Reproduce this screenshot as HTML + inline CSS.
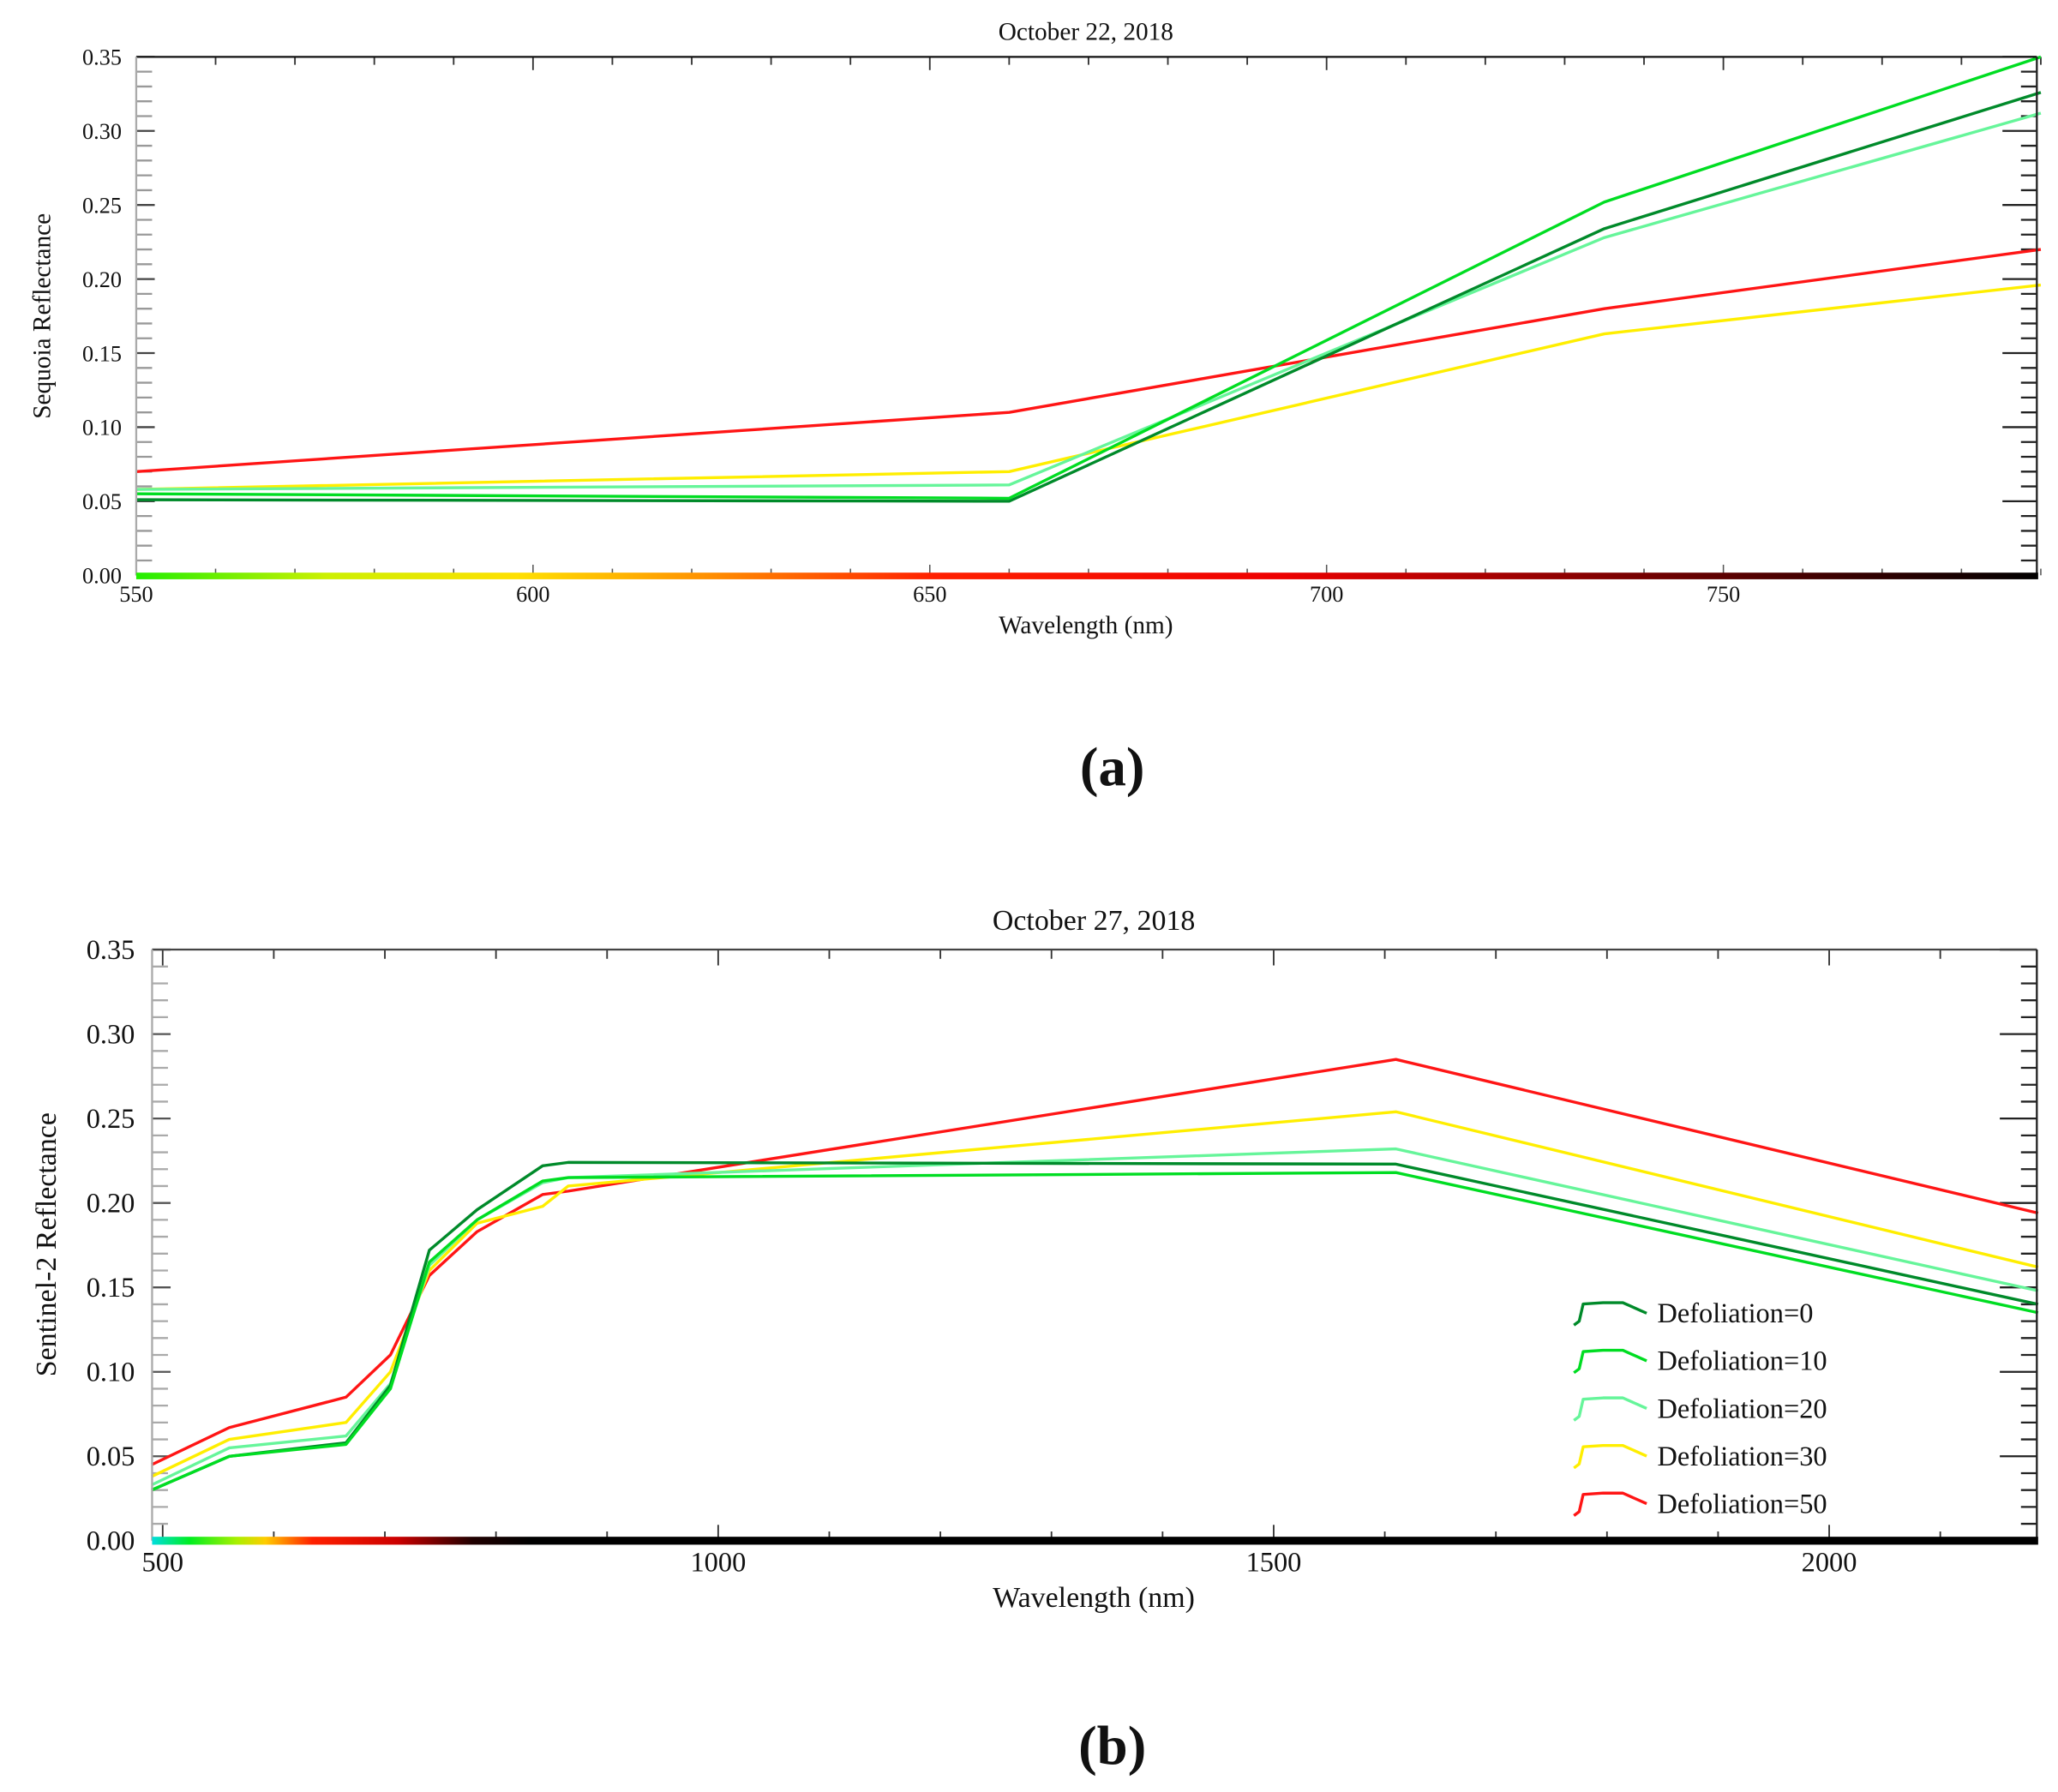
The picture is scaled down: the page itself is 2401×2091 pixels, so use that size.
<!DOCTYPE html>
<html><head><meta charset="utf-8"><style>
html,body{margin:0;padding:0;background:#fff;}
svg{display:block;}
text{font-family:"Liberation Serif",serif;fill:#111;}
</style></head><body>
<svg id="s" width="2401" height="2091" viewBox="0 0 1556 1355" preserveAspectRatio="none" xmlns="http://www.w3.org/2000/svg">
<defs>
<linearGradient id="ga" x1="0" x2="1" y1="0" y2="0">
<stop offset="0" stop-color="#22ee00"/><stop offset="0.1" stop-color="#ccf000"/><stop offset="0.2" stop-color="#ffe000"/><stop offset="0.3" stop-color="#ff9000"/><stop offset="0.42" stop-color="#ff2000"/><stop offset="0.6" stop-color="#ee0000"/><stop offset="0.8" stop-color="#700000"/><stop offset="1" stop-color="#000"/>
</linearGradient>
<linearGradient id="gb" x1="0" x2="1" y1="0" y2="0">
<stop offset="0" stop-color="#00dddd"/><stop offset="0.02" stop-color="#00ee20"/><stop offset="0.045" stop-color="#aaf000"/><stop offset="0.06" stop-color="#ffcc00"/><stop offset="0.085" stop-color="#ff2000"/><stop offset="0.13" stop-color="#cc0000"/><stop offset="0.17" stop-color="#200000"/><stop offset="0.2" stop-color="#000"/><stop offset="1" stop-color="#000"/>
</linearGradient>
</defs>
<g id="g"></g>
<text x="821" y="30" font-size="19" text-anchor="middle">October 22, 2018</text>
<text x="821" y="479" font-size="19" text-anchor="middle">Wavelength (nm)</text>
<text transform="translate(38,239) rotate(-90)" font-size="19" text-anchor="middle">Sequoia Reflectance</text>
<text x="841" y="594" font-size="42" font-weight="bold" text-anchor="middle">(a)</text>
<text x="827" y="703" font-size="22" text-anchor="middle">October 27, 2018</text>
<text x="827" y="1215" font-size="22" text-anchor="middle">Wavelength (nm)</text>
<text transform="translate(42,941) rotate(-90)" font-size="22" text-anchor="middle">Sentinel-2 Reflectance</text>
<text x="841" y="1334" font-size="42" font-weight="bold" text-anchor="middle">(b)</text>
</svg>
<script>
var g=document.getElementById('g'),h='';
function L(x1,y1,x2,y2,c,w){h+='<line x1="'+x1+'" y1="'+y1+'" x2="'+x2+'" y2="'+y2+'" stroke="'+c+'" stroke-width="'+w+'"/>';}
function T(x,y,t,fs,a){h+='<text x="'+x+'" y="'+y+'" font-size="'+fs+'" text-anchor="'+(a||'middle')+'">'+t+'</text>';}
function P(pts,c,w){h+='<polyline fill="none" stroke="'+c+'" stroke-width="'+w+'" stroke-linejoin="round" points="'+pts.join(' ')+'"/>';}
var cols=['#008a2a','#00dd22','#66f59a','#ffee00','#ff1515'];
// chart a
var ax0=103,ax1=1540,ay0=43,ay1=435;
function xa(n){return 103+(n-550)*6;} function ya(v){return 435-1120*v;}
for(var n=550;n<=790;n+=10){var X=xa(n);var maj=(n%50==0);L(X,ay1,X,ay1-(maj?8:5),'#555',1);L(X,ay0,X,ay0+(maj?10:6),'#333',1.2);}
for(var k=0;k<=35;k++){var Y=ya(k/100);var maj=(k%5==0);L(ax0,Y,ax0+(maj?14:12),Y,maj?'#444':'#999',1.5);L(ax1,Y,ax1-(maj?26:12),Y,'#222',1.5);}
[550,600,650,700,750].forEach(function(n){T(xa(n),455,n,17);});
for(var k=0;k<=7;k++)T(92,ya(k*0.05)+6,(k*0.05).toFixed(2),17,'end');
var wa=[550,660,735,790];
var da=[[0.051,0.05,0.234,0.326],[0.055,0.052,0.252,0.35],[0.058,0.061,0.228,0.312],[0.058,0.07,0.163,0.196],[0.07,0.11,0.18,0.22]];
[4,3,2,0,1].forEach(function(i){P(wa.map(function(w,j){return xa(w)+','+ya(da[i][j]);}),cols[i],2.2);});
L(ax0,ay0,ax1,ay0,'#111',1.5);L(ax0,ay0,ax0,ay1,'#aaa',1.5);L(ax1,ay0,ax1,ay1,'#222',1.5);
h+='<rect x="103" y="433" width="1438" height="5" fill="url(#ga)"/>';
// chart b
var bx0=115,bx1=1540,by0=718,by1=1165;
function xb(n){return 123+(n-500)*0.84;} function yb(v){return 1165-1277*v;}
for(var n=500;n<=2100;n+=100){var X=xb(n);var maj=(n%500==0);L(X,by1,X,by1-(maj?12:7),'#333',1.2);L(X,by0,X,by0+(maj?12:7),'#333',1.2);}
for(var k=0;k<=35;k++){var Y=yb(k/100);var maj=(k%5==0);L(bx0,Y,bx0+(maj?14:12),Y,maj?'#555':'#aaa',1.5);L(bx1,Y,bx1-(maj?28:12),Y,'#222',1.5);}
[500,1000,1500,2000].forEach(function(n){T(xb(n),1188,n,21);});
for(var k=0;k<=7;k++)T(102,yb(k*0.05)+7,(k*0.05).toFixed(2),21,'end');
var wb=[490,560,665,705,740,783,842,865,1610,2190];
var db=[[0.03,0.05,0.058,0.092,0.172,0.196,0.222,0.224,0.223,0.14],
[0.03,0.05,0.057,0.09,0.165,0.19,0.213,0.215,0.218,0.135],
[0.033,0.055,0.062,0.093,0.163,0.19,0.212,0.215,0.232,0.148],
[0.038,0.06,0.07,0.1,0.16,0.188,0.198,0.21,0.254,0.162],
[0.045,0.067,0.085,0.11,0.157,0.183,0.205,0.207,0.285,0.194]];
[4,3,2,0,1].forEach(function(i){P(wb.map(function(w,j){return Math.min(1541,xb(w))+','+yb(db[i][j]);}),cols[i],2.2);});
L(bx0,by0,bx1,by0,'#444',1.5);L(bx0,by0,bx0,by1,'#aaa',1.5);L(bx1,by0,bx1,by1,'#222',1.5);
h+='<rect x="115" y="1162" width="1426" height="6" fill="url(#gb)"/>';
var labs=['Defoliation=0','Defoliation=10','Defoliation=20','Defoliation=30','Defoliation=50'];
for(var i=0;i<5;i++){var oy=992+36*i;
P(['1190,'+(oy+10),'1194,'+(oy+7),'1197,'+(oy-6),'1212,'+(oy-7),'1227,'+(oy-7),'1245,'+(oy+1)],cols[i],2.2);
T(1253,oy+8,labs[i],21,'start');}
g.innerHTML=h;
</script>
</body></html>
